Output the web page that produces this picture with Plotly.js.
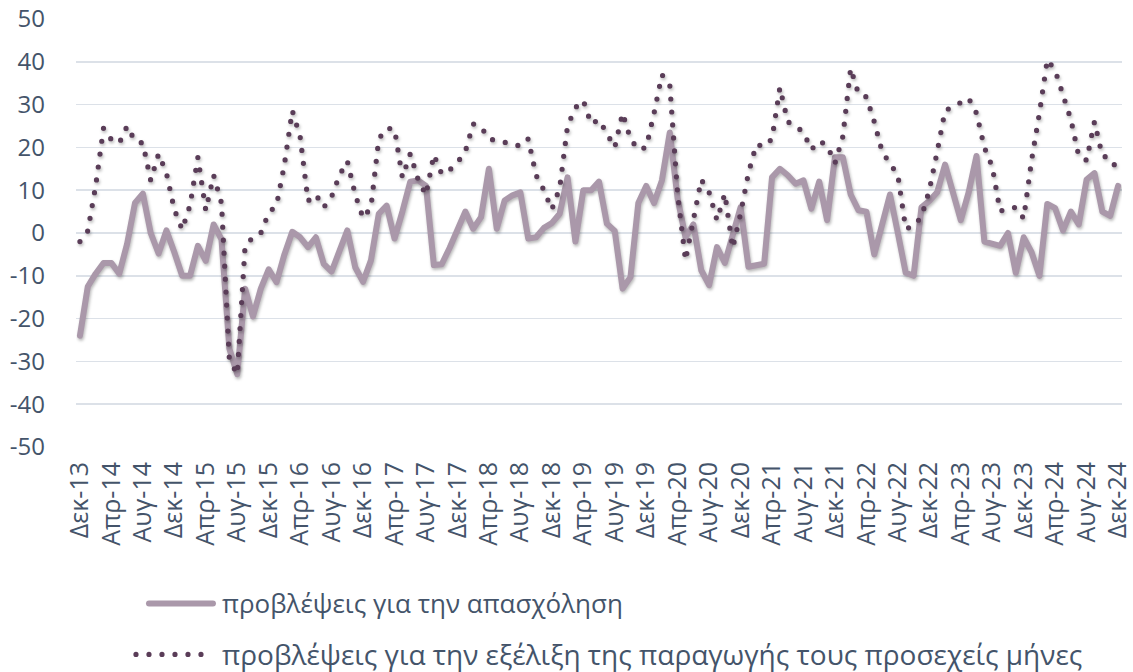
<!DOCTYPE html>
<html>
<head>
<meta charset="utf-8">
<script src="https://cdn.plot.ly/plotly-3.0.1.min.js"></script>
<style>
  html, body { margin: 0; padding: 0; background: #ffffff; }
  #chart { width: 1133px; height: 672px; }
  .js-line { stroke-linecap: round; stroke-linejoin: round; filter: drop-shadow(1.5px 2.5px 1.6px rgba(0,0,0,0.28)); }
  .shapelayer path { stroke-linecap: round; }
</style>
</head>
<body>
<div id="chart"></div>
<script>
// Month labels (Greek abbreviations) and years covered, Dec-13 .. Dec-24
const monthNames = ['Ιαν','Φεβ','Μαρ','Απρ','Μαϊ','Ιουν','Ιουλ','Αυγ','Σεπ','Οκτ','Νοε','Δεκ'];
const categories = ['Δεκ-13'];
for (let y = 14; y <= 24; y++) {
  for (let m = 0; m < 12; m++) categories.push(monthNames[m] + '-' + y);
}

// Tick labels shown on the x axis (every 4 months)
const tickLabels = ['Δεκ-13','Απρ-14','Αυγ-14','Δεκ-14','Απρ-15','Αυγ-15','Δεκ-15','Απρ-16','Αυγ-16','Δεκ-16',
  'Απρ-17','Αυγ-17','Δεκ-17','Απρ-18','Αυγ-18','Δεκ-18','Απρ-19','Αυγ-19','Δεκ-19','Απρ-20','Αυγ-20','Δεκ-20',
  'Απρ-21','Αυγ-21','Δεκ-21','Απρ-22','Αυγ-22','Δεκ-22','Απρ-23','Αυγ-23','Δεκ-23','Απρ-24','Αυγ-24','Δεκ-24'];

// Y tick values and labels
const yTickValues = [50, 40, 30, 20, 10, 0, -10, -20, -30, -40, -50];
const yTickLabels = ['50', '40', '30', '20', '10', '0', '-10', '-20', '-30', '-40', '-50'];

// Series names
const seriesNames = ['προβλέψεις για την απασχόληση',
                     'προβλέψεις για την εξέλιξη της παραγωγής τους προσεχείς μήνες'];

// Employment expectations (solid line), Dec-13 .. Dec-24
const employment = [
  -24, -12.5, -9.5, -7, -7, -9.5, -2.5, 7, 9.2, 0, -4.8, 0.6,
  -4.5, -10, -10, -3, -6.5, 2, -1.5, -27, -33, -13, -19.5, -13,
  -8.5, -11.5, -5, 0.3, -1, -3.3, -1, -7.2, -9, -4, 0.6, -8,
  -11.4, -6.4, 4.5, 6.4, -1.3, 5, 12, 12.3, 11, -7.5, -7.3, -3.5,
  0.5, 5, 1, 3.7, 15, 1, 7.6, 8.8, 9.5, -1.3, -1, 1.2,
  2.3, 4.5, 13, -2, 10, 10, 12, 2.2, 0.5, -13, -10.3, 7,
  11, 7, 12.3, 23.5, 8, -1, 2, -8.7, -12.2, -3.3, -7, -0.5,
  6, -7.9, -7.5, -7.2, 13, 15, 13.5, 11.5, 12.3, 5.7, 12, 3,
  17.7, 17.7, 9, 5.3, 5, -5, 2, 9, 0, -9.3, -10, 6,
  7.5, 9.5, 16, 10, 3, 9.5, 18, -2, -2.5, -3, 0, -9.3,
  -1, -4.5, -10, 6.8, 5.8, 0.6, 5, 2, 12.5, 14, 5, 4,
  11
];

// Production expectations for the coming months (dotted line), Dec-13 .. Dec-24
const production = [
  -2, 0.5, 11, 24.5, 21.8, 21, 25, 21.5, 21, 12.3, 18.5, 14,
  5.5, 0.8, 6.5, 17.7, 5.3, 13.5, 7, -29.5, -33, -3, -1, 0,
  4.7, 6.5, 16, 28.6, 22.5, 7.5, 9, 6, 8.5, 13.5, 16.8, 9,
  3.5, 6, 22, 24.5, 24.3, 13, 18.5, 12.5, 8.9, 18.3, 13.8, 14.7,
  16.5, 19, 25.5, 24.8, 22, 21.7, 21.3, 20.8, 20.3, 22, 13.5, 10,
  5.5, 10.5, 25, 29.3, 31, 25.5, 26.5, 23, 20, 28, 22, 19.5,
  20, 28, 37, 34.6, 9, -6.4, 3.3, 12.5, 9.5, 3, 9.2, -3.5,
  4.5, 14, 20.7, 20.2, 22, 34, 26, 25, 23.5, 19.5, 21.5, 20.5,
  16.3, 22.5, 38.5, 32.5, 31.8, 26, 19, 16.5, 13.5, 1, 1.6, 3.8,
  10, 19, 28.6, 29.5, 30.5, 31.5, 28, 20, 15.5, 5.1, 5.7, 6,
  3.4, 17, 28, 40.5, 38, 32.5, 26.5, 18, 17, 26, 18, 17.5,
  14.5
];

const solidColor = '#AA98AA';
const dotColor = '#5A3D58';
const textColor = '#44546A';
const fontFamily = '"Open Sans", "Noto Sans", sans-serif';
const xTickSize = 25;
const yTickSize = 24;
const legendSize = 26;

const traces = [
  {
    x: categories, y: employment, type: 'scatter', mode: 'lines', name: seriesNames[0],
    line: { color: solidColor, width: 6 }, hoverinfo: 'x+y'
  },
  {
    x: categories, y: production, type: 'scatter', mode: 'lines', name: seriesNames[1],
    line: { color: dotColor, width: 5.2, dash: '0px,13px' }, hoverinfo: 'x+y'
  }
];

// Plot area in pixels: left 76, right 1122.3, top 18.7, bottom 447.3
const L = 76, R = 1133 - 1122.3, T = 18.7, B = 672 - 447.3;
const plotW = 1133 - L - R, plotH = 672 - T - B;
const px2x = p => (p - L) / plotW;
const px2y = p => (672 - B - p) / plotH;

const layout = {
  width: 1133, height: 672,
  margin: { l: L, r: R, t: T, b: B, pad: 0 },
  paper_bgcolor: '#ffffff', plot_bgcolor: '#ffffff',
  showlegend: false,
  font: { family: fontFamily, size: legendSize, color: textColor },
  xaxis: {
    type: 'category',
    range: [-0.5, categories.length - 0.5],
    tickmode: 'array', tickvals: tickLabels, ticktext: tickLabels,
    tickangle: -90, tickfont: { family: fontFamily, size: xTickSize, color: textColor },
    showgrid: false, zeroline: false, showline: false, ticks: '',
    ticklabelstandoff: 9, fixedrange: true
  },
  yaxis: {
    range: [-50, 50],
    tickmode: 'array', tickvals: yTickValues, ticktext: yTickLabels,
    tickfont: { family: fontFamily, size: yTickSize, color: textColor },
    showgrid: true, gridcolor: '#DCE1E8', gridwidth: 1.5,
    zeroline: false, showline: false, ticks: '',
    ticklabelstandoff: 30, fixedrange: true
  },
  shapes: [
    { type: 'line', xref: 'paper', yref: 'paper',
      x0: px2x(149), x1: px2x(213), y0: px2y(604), y1: px2y(604),
      line: { color: solidColor, width: 6 } },
    { type: 'line', xref: 'paper', yref: 'paper',
      x0: px2x(136), x1: px2x(204), y0: px2y(655), y1: px2y(655),
      line: { color: dotColor, width: 5.2, dash: '0px,13px' } }
  ],
  annotations: [
    { xref: 'paper', yref: 'paper', x: px2x(220), y: px2y(604), xanchor: 'left', yanchor: 'middle',
      text: seriesNames[0], showarrow: false, font: { family: fontFamily, size: legendSize, color: textColor } },
    { xref: 'paper', yref: 'paper', x: px2x(220), y: px2y(655), xanchor: 'left', yanchor: 'middle',
      text: seriesNames[1], showarrow: false, font: { family: fontFamily, size: 28, color: textColor } }
  ]
};

Plotly.newPlot('chart', traces, layout, { displayModeBar: false, staticPlot: true });
</script>
</body>
</html>
